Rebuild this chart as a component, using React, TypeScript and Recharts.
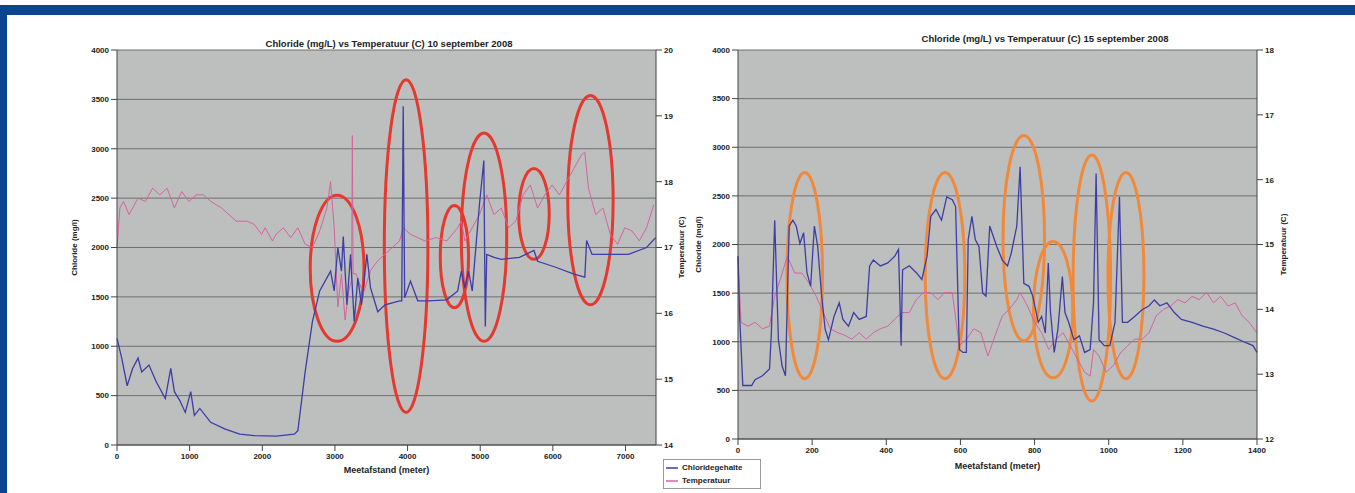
import React from 'react';
import {
  LineChart,
  Line,
  XAxis,
  YAxis,
  CartesianGrid,
  ReferenceArea,
  Legend,
} from 'recharts';

// 10 september 2008
const sep10ClDist = [0, 65, 140, 215, 290, 340, 440, 540, 665, 740, 790, 865, 940, 1015, 1065, 1140, 1290, 1490, 1690, 1890, 2190, 2440, 2490, 2590, 2690, 2790, 2865, 2940, 2990, 3040, 3090, 3115, 3165, 3215, 3265, 3315, 3365, 3440, 3490, 3590, 3690, 3790, 3890, 3920, 3940, 3960, 4040, 4140, 4290, 4540, 4690, 4740, 4790, 4840, 4890, 4990, 5050, 5070, 5090, 5190, 5290, 5540, 5740, 5790, 6040, 6290, 6440, 6465, 6540, 6790, 7040, 7290, 7415];
const sep10Cl = [1080, 880, 600, 775, 880, 740, 810, 640, 470, 775, 540, 450, 330, 540, 300, 370, 230, 160, 110, 95, 90, 110, 145, 740, 1250, 1560, 1660, 1760, 1560, 2000, 1760, 2110, 1420, 1930, 1250, 1690, 1420, 1930, 1590, 1350, 1420, 1440, 1460, 1460, 3430, 1490, 1660, 1460, 1460, 1470, 1560, 1760, 1590, 1760, 1560, 2440, 2880, 1200, 1930, 1900, 1880, 1900, 1970, 1860, 1800, 1730, 1700, 2070, 1930, 1930, 1930, 2000, 2100];
const sep10TempDist = [0, 40, 90, 165, 240, 290, 390, 490, 590, 690, 790, 890, 990, 1090, 1190, 1290, 1440, 1540, 1640, 1790, 1890, 1990, 2040, 2140, 2190, 2290, 2390, 2490, 2590, 2690, 2790, 2890, 2940, 2990, 3040, 3090, 3140, 3190, 3230, 3240, 3250, 3290, 3390, 3490, 3590, 3690, 3790, 3890, 3940, 4040, 4140, 4240, 4390, 4540, 4690, 4740, 4790, 4890, 4990, 5090, 5190, 5290, 5390, 5490, 5590, 5690, 5790, 5890, 5990, 6090, 6190, 6290, 6390, 6440, 6490, 6590, 6690, 6790, 6890, 6990, 7090, 7190, 7290, 7390];
const sep10Temp = [17.0, 17.6, 17.7, 17.5, 17.65, 17.75, 17.7, 17.9, 17.8, 17.9, 17.6, 17.85, 17.7, 17.8, 17.8, 17.7, 17.6, 17.5, 17.4, 17.4, 17.35, 17.2, 17.3, 17.1, 17.2, 17.3, 17.15, 17.3, 17.05, 17.0, 17.25, 17.6, 18.0, 17.3, 16.1, 16.6, 15.9, 16.35, 16.5, 18.7, 16.6, 16.6, 16.3, 16.65, 16.8, 16.9, 17.0, 17.1, 17.3, 17.2, 17.15, 17.1, 17.15, 17.1, 17.3, 17.4, 17.1, 17.3, 17.5, 17.8, 17.5, 17.6, 17.3, 17.4, 17.8, 17.95, 17.6, 17.8, 17.95, 17.8, 18.0, 18.2, 18.4, 18.45, 17.9, 17.5, 17.6, 17.2, 17.05, 17.3, 17.25, 17.1, 17.3, 17.65];
// marked zones [x1, x2, y1, y2]
const sep10Marks = [
  [2660, 3400, 1050, 2530],
  [3680, 4280, 330, 3700],
  [4450, 4840, 1390, 2425],
  [4740, 5365, 1050, 3160],
  [5530, 5950, 1880, 2800],
  [6205, 6830, 1420, 3540],
];

// 15 september 2008
const sep15ClDist = [0, 4, 13, 37, 46, 66, 85, 90, 99, 109, 119, 128, 138, 148, 157, 167, 177, 186, 196, 206, 215, 225, 235, 244, 259, 273, 283, 298, 312, 327, 346, 355, 365, 384, 404, 423, 433, 440, 444, 462, 481, 496, 510, 520, 534, 549, 563, 578, 587, 597, 607, 616, 621, 631, 640, 650, 660, 669, 679, 689, 698, 713, 727, 737, 752, 761, 771, 785, 795, 810, 819, 829, 837, 843, 853, 863, 875, 882, 892, 906, 921, 935, 950, 959, 966, 974, 988, 1003, 1017, 1029, 1037, 1051, 1070, 1090, 1109, 1123, 1138, 1157, 1177, 1196, 1225, 1254, 1283, 1312, 1341, 1370, 1389, 1400];
const sep15Cl = [1880, 1300, 550, 550, 610, 650, 720, 1090, 2250, 1020, 750, 650, 2190, 2250, 2190, 2010, 2120, 1710, 1570, 2190, 1980, 1500, 1130, 1020, 1260, 1400, 1230, 1160, 1300, 1230, 1260, 1780, 1840, 1780, 1810, 1880, 1950, 960, 1740, 1780, 1710, 1640, 1880, 2290, 2360, 2250, 2490, 2460, 2390, 920, 890, 890, 2050, 2290, 2050, 1980, 1500, 1470, 2190, 2080, 1980, 1840, 1780, 1910, 2190, 2800, 1600, 1570, 1470, 1200, 1260, 1090, 1810, 1300, 890, 1130, 1670, 1300, 1200, 1020, 1060, 890, 920, 1400, 2730, 1020, 960, 960, 1200, 2490, 1200, 1200, 1260, 1330, 1370, 1430, 1370, 1400, 1300, 1230, 1200, 1160, 1130, 1090, 1040, 990, 960, 890];
const sep15TempDist = [0, 8, 27, 46, 66, 85, 99, 114, 133, 153, 172, 191, 211, 230, 249, 269, 288, 307, 327, 346, 365, 384, 404, 423, 442, 462, 481, 500, 520, 539, 558, 578, 597, 616, 636, 655, 674, 694, 713, 732, 752, 761, 781, 800, 819, 838, 858, 877, 896, 916, 935, 950, 959, 974, 993, 1012, 1032, 1051, 1070, 1090, 1109, 1128, 1148, 1167, 1186, 1206, 1225, 1244, 1264, 1283, 1302, 1322, 1341, 1360, 1379, 1399];
const sep15Temp = [14.82, 13.8, 13.74, 13.8, 13.7, 13.74, 14.2, 14.46, 14.82, 14.56, 14.56, 14.41, 14.2, 13.95, 13.7, 13.64, 13.6, 13.54, 13.64, 13.54, 13.64, 13.7, 13.74, 13.85, 13.95, 13.95, 14.15, 14.26, 14.26, 14.15, 14.26, 14.26, 13.44, 13.54, 13.7, 13.64, 13.28, 13.6, 13.9, 14.0, 14.15, 14.26, 14.05, 13.8, 13.64, 13.38, 13.54, 13.64, 13.44, 13.23, 13.03, 12.97, 13.38, 13.28, 13.03, 13.13, 13.33, 13.44, 13.54, 13.54, 13.64, 13.9, 14.0, 14.05, 14.15, 14.1, 14.2, 14.15, 14.26, 14.1, 14.2, 14.05, 14.1, 13.9, 13.8, 13.64];
const sep15Marks = [
  [132, 228, 620, 2740],
  [505, 612, 620, 2740],
  [715, 827, 1010, 3120],
  [797, 903, 630, 2030],
  [904, 1005, 390, 2920],
  [998, 1095, 620, 2740],
];

const clTicks = [0, 500, 1000, 1500, 2000, 2500, 3000, 3500, 4000];
const sep10XTicks = [0, 1000, 2000, 3000, 4000, 5000, 6000, 7000];
const sep15XTicks = [0, 200, 400, 600, 800, 1000, 1200, 1400];
const sep10TempTicks = [14, 15, 16, 17, 18, 19, 20];
const sep15TempTicks = [12, 13, 14, 15, 16, 17, 18];

const CL_COLOR = '#3d3da6';
const TEMP_COLOR = '#d5649f';
const FONT = '"Liberation Sans", Arial, sans-serif';
const tickStyle = { fontSize: 8, fontWeight: 700, fill: '#222', fontFamily: FONT };

const zip = (xs: number[], ys: number[], key: string) =>
  xs.map((d, i) => ({ dist: d, [key]: ys[i] }));

const ellipseShape = (color: string) => (p: any) => (
  <ellipse
    cx={p.x + p.width / 2}
    cy={p.y + p.height / 2}
    rx={Math.abs(p.width) / 2}
    ry={Math.abs(p.height) / 2}
    fill="none"
    stroke={color}
    strokeWidth={3}
  />
);

interface PanelProps {
  left: number;
  width: number;
  margin: { top: number; right: number; bottom: number; left: number };
  title: string;
  titleX: number;
  titleY: number;
  clData: any[];
  tempData: any[];
  xMax: number;
  xTicks: number[];
  tempDomain: [number, number];
  tempTicks: number[];
  marks: number[][];
  markColor: string;
  leftAxisWidth: number;
  clTitleOffset: number;
  tempTitleOffset: number;
  xTitleOffset: number;
  legend?: boolean;
}

function Panel(props: PanelProps) {
  const {
    left, width, margin, title, titleX, titleY, clData, tempData, xMax, xTicks,
    tempDomain, tempTicks, marks, markColor, leftAxisWidth, clTitleOffset,
    tempTitleOffset, xTitleOffset, legend,
  } = props;
  return (
    <div style={{ position: 'absolute', left, top: 0 }}>
      <LineChart width={width} height={493} margin={margin}>
        <CartesianGrid
          yAxisId="cl"
          vertical={false}
          stroke="#6f6f6f"
          fill="#bdbebe"
          fillOpacity={1}
        />
        <XAxis
          type="number"
          dataKey="dist"
          domain={[0, xMax]}
          ticks={xTicks}
          interval={0}
          height={24}
          tick={tickStyle}
          stroke="#444"
          label={{
            value: 'Meetafstand (meter)',
            position: 'bottom',
            offset: xTitleOffset,
            style: { fontSize: 9, fontWeight: 700, fill: '#222', fontFamily: FONT },
          }}
        />
        <YAxis
          yAxisId="cl"
          domain={[0, 4000]}
          ticks={clTicks}
          interval={0}
          width={leftAxisWidth}
          tick={tickStyle}
          stroke="#444"
          label={{
            value: 'Chloride (mg/l)',
            angle: -90,
            position: 'left',
            offset: clTitleOffset,
            style: { textAnchor: 'middle', fontSize: 8, fontWeight: 700, fill: '#222', fontFamily: FONT },
          }}
        />
        <YAxis
          yAxisId="t"
          orientation="right"
          domain={tempDomain}
          ticks={tempTicks}
          interval={0}
          width={30}
          tick={tickStyle}
          stroke="#444"
          label={{
            value: 'Temperatuur (C)',
            angle: -90,
            position: 'insideRight',
            offset: tempTitleOffset,
            style: { textAnchor: 'middle', fontSize: 8, fontWeight: 700, fill: '#222', fontFamily: FONT },
          }}
        />
        <Line
          yAxisId="t"
          data={tempData}
          dataKey="temp"
          name="Temperatuur"
          stroke={TEMP_COLOR}
          strokeWidth={1}
          dot={false}
          isAnimationActive={false}
        />
        <Line
          yAxisId="cl"
          data={clData}
          dataKey="cl"
          name="Chloridegehalte"
          stroke={CL_COLOR}
          strokeWidth={1.3}
          dot={false}
          isAnimationActive={false}
        />
        {marks.map(([x1, x2, y1, y2], i) => (
          <ReferenceArea
            key={i}
            yAxisId="cl"
            x1={x1}
            x2={x2}
            y1={y1}
            y2={y2}
            ifOverflow="visible"
            shape={ellipseShape(markColor)}
          />
        ))}
        {legend && (
          <Legend
            layout="vertical"
            align="center"
            verticalAlign="middle"
            iconType="plainline"
            iconSize={12}
            payload={[
              { value: 'Chloridegehalte', type: 'plainline', color: CL_COLOR, payload: { strokeDasharray: '0' } as any },
              { value: 'Temperatuur', type: 'plainline', color: TEMP_COLOR, payload: { strokeDasharray: '0' } as any },
            ]}
            formatter={(v: string) => <span style={{ color: '#222' }}>{v}</span>}
            wrapperStyle={{
              left: 663,
              top: 459,
              width: 98,
              border: '1px solid #999',
              background: '#fff',
              fontSize: 8,
              fontWeight: 700,
              fontFamily: FONT,
              lineHeight: '13px',
              padding: '1px 2px',
              boxSizing: 'border-box',
              whiteSpace: 'nowrap',
              overflow: 'hidden',
            }}
          />
        )}
      </LineChart>
      <div
        style={{
          position: 'absolute',
          left: titleX - left,
          top: titleY,
          transform: 'translate(-50%, -50%)',
          fontSize: 9.5,
          fontWeight: 700,
          fontFamily: FONT,
          color: '#222',
          whiteSpace: 'nowrap',
        }}
      >
        {title}
      </div>
    </div>
  );
}

export default function App() {
  return (
    <div
      style={{
        position: 'absolute',
        left: 0,
        top: 0,
        width: 1355,
        height: 493,
        background: '#fff',
        overflow: 'hidden',
      }}
    >
      <div style={{ position: 'absolute', left: 0, top: 5, width: 1355, height: 10, background: '#0b4592' }} />
      <div style={{ position: 'absolute', left: 0, top: 5, width: 7, height: 488, background: '#0b4592' }} />
      <Panel
        left={0}
        width={700}
        margin={{ top: 50, right: 14, bottom: 24, left: 82 }}
        title="Chloride (mg/L) vs Temperatuur (C) 10 september 2008"
        titleX={389}
        titleY={43}
        clData={zip(sep10ClDist, sep10Cl, 'cl')}
        tempData={zip(sep10TempDist, sep10Temp, 'temp')}
        xMax={7420}
        xTicks={sep10XTicks}
        tempDomain={[14, 20]}
        tempTicks={sep10TempTicks}
        marks={sep10Marks}
        markColor="#e5392f"
        leftAxisWidth={35}
        clTitleOffset={8}
        tempTitleOffset={5}
        xTitleOffset={-2}
        legend
      />
      <Panel
        left={690}
        width={665}
        margin={{ top: 50, right: 68, bottom: 30, left: 18 }}
        title="Chloride (mg/L) vs Temperatuur (C) 15 september 2008"
        titleX={1045}
        titleY={38}
        clData={zip(sep15ClDist, sep15Cl, 'cl')}
        tempData={zip(sep15TempDist, sep15Temp, 'temp')}
        xMax={1400}
        xTicks={sep15XTicks}
        tempDomain={[12, 18]}
        tempTicks={sep15TempTicks}
        marks={sep15Marks}
        markColor="#f08a3a"
        leftAxisWidth={30}
        clTitleOffset={10}
        tempTitleOffset={4}
        xTitleOffset={0}
      />
    </div>
  );
}
